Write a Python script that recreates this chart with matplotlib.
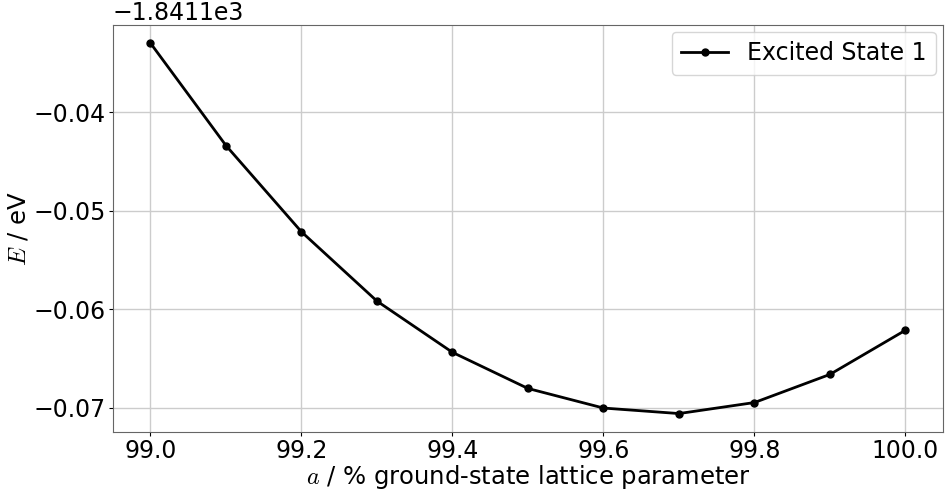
import numpy as np
import matplotlib.pyplot as plt

# Data
lattice_pct = [99.0, 99.1, 99.2, 99.3, 99.4, 99.5, 99.6, 99.7, 99.8, 99.9, 100.0]
energy_rel = [-0.03296, -0.04337, -0.05214, -0.05918, -0.06439, -0.06806,
              -0.07005, -0.07061, -0.06949, -0.06663, -0.06214]
offset = -1841.1
energy = [offset + e for e in energy_rel]

plt.rcParams['font.size'] = 17
plt.rcParams['mathtext.fontset'] = 'cm'

fig = plt.figure(figsize=(9.47, 4.91), dpi=100)
ax = fig.add_axes([0.119, 0.12, 0.877, 0.83])

ax.plot(lattice_pct, energy, color='black', linewidth=2, marker='o',
        markersize=5, label='Excited State 1')

ax.set_xlabel(r'$a$ / % ground-state lattice parameter', fontsize=17.5, labelpad=0)
ax.set_ylabel(r'$E$ / eV', fontsize=17.5, labelpad=2)
ax.grid(True, color='#cccccc', linewidth=1)
ax.set_xticks([99.0, 99.2, 99.4, 99.6, 99.8, 100.0])
ax.set_yticks([offset - 0.04, offset - 0.05, offset - 0.06, offset - 0.07])
for s in ax.spines.values():
    s.set_color('#666666')
ax.tick_params(colors='black', labelsize=17, length=3, pad=2)
ax.legend(loc='upper right', fontsize=17, borderaxespad=0.3)

fig.savefig('out.png', dpi=100)
